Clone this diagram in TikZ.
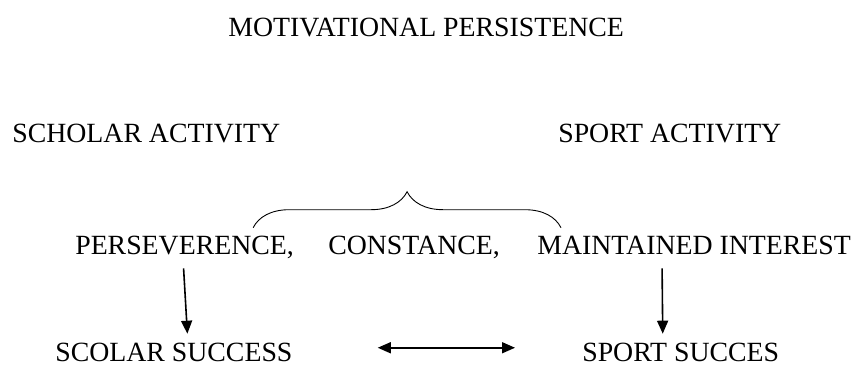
\documentclass[tikz,border=0pt]{standalone}
\usepackage{fontspec}
\setmainfont{Liberation Serif}
\usepackage{tikz}
\usetikzlibrary{arrows.meta}
\usetikzlibrary{calc}
\usetikzlibrary{decorations.pathreplacing}

\begin{document}
\begin{tikzpicture}[x=1pt,y=-1pt,>={Triangle[length=13pt,width=11pt]},semithick]
 				 \tikzstyle{every node}=[inner sep=0pt, anchor=base west, text height=18.5pt, text depth=4pt, font=\fontsize{27.8}{33}\selectfont]
 				 \tikzstyle{arr}=[->, line width=1.6pt]
 				 \useasboundingbox (0,0) rectangle (853,367);
 					 \node (title)  at (228,36)  {MOTIVATIONAL PERSISTENCE};
 					 \node (scholar) at (12,142) {SCHOLAR ACTIVITY};
 					 \node (sportact) at (558,142) {SPORT ACTIVITY};
 					 \node (perse)  at (75,254)  {PERSEVERENCE,};
 					 \node (const)  at (328,254) {CONSTANCE,};
 					 \node (maint)  at (537,254) {MAINTAINED INTEREST};
 					 \node (scolar) at (55,361)  {SCOLAR SUCCESS};
 					 \node (sport)  at (582,361) {SPORT SUCCES};

 					 \draw[decorate, decoration={brace, amplitude=36pt}, line width=0.9pt]
 					 			([xshift=-41pt,yshift=7.5pt]perse.north east) -- ([xshift=24pt,yshift=7.5pt]maint.north west);
 					 \draw[arr] ([xshift=-1pt,yshift=-10pt]perse.south) -- ([xshift=13.5pt,yshift=8.5pt]scolar.north);
 					 \draw[arr] ([xshift=-32pt,yshift=-10pt]maint.south) -- ([xshift=-18pt,yshift=8.5pt]sport.north);
 					 \draw[arr, <->] ([xshift=85pt,yshift=6pt]scolar.east) -- ([xshift=-67pt,yshift=6pt]sport.west);
\end{tikzpicture}
\end{document}
